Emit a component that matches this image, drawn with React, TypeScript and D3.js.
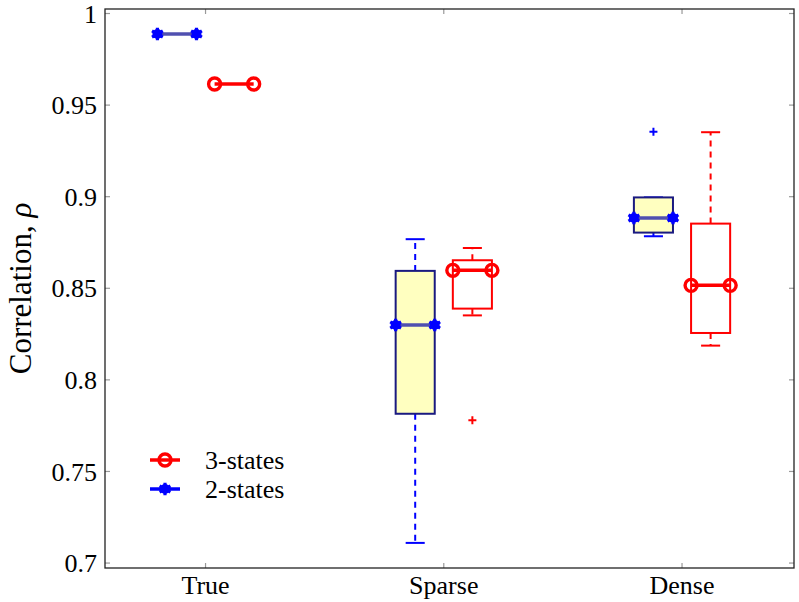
import * as d3 from 'd3';
import { useEffect, useRef } from 'react';

const categories = ['True', 'Sparse', 'Dense'];
const yTicks = [0.7, 0.75, 0.8, 0.85, 0.9, 0.95, 1];

// 2-states (blue) box statistics per category
const twoLow = [0.9888, 0.711, 0.8784];
const twoQ1 = [0.9888, 0.7815, 0.8804];
const twoMed = [0.9888, 0.83, 0.8884];
const twoQ3 = [0.9888, 0.8595, 0.8996];
const twoHigh = [0.9888, 0.8768, 0.8996];
const twoOut = [[], [], [0.9354]];

// 3-states (red)
const threeLow = [0.9615, 0.8352, 0.8187];
const threeQ1 = [0.9615, 0.8389, 0.8256];
const threeMed = [0.9615, 0.8598, 0.8516];
const threeQ3 = [0.9615, 0.8653, 0.8853];
const threeHigh = [0.9615, 0.872, 0.9352];
const threeOut = [[], [0.778], []];

const legendLabels = ['3-states', '2-states'];

export default function App() {
  const ref = useRef(null);

  useEffect(() => {
    const W = 799, H = 602;
    const margin = { top: 9, right: 5, bottom: 34, left: 105 };
    const width = W - margin.left - margin.right;
    const height = H - margin.top - margin.bottom;
    const font = 'Liberation Serif, DejaVu Serif, serif';

    const x = d3.scaleLinear().domain([0.578, 3.47]).range([0, width]);
    const y = d3.scaleLinear().domain([0.6973, 1.00246]).range([height, 0]);

    const svg = d3.select(ref.current).html('')
      .append('svg')
      .attr('width', W)
      .attr('height', H)
      .style('position', 'absolute')
      .style('left', 0)
      .style('top', 0)
      .style('font-family', font);

    const g = svg.append('g')
      .attr('transform', 'translate(' + margin.left + ',' + margin.top + ')');

    // ticks (inward, gray)
    yTicks.forEach(function (t) {
      g.append('line').attr('x1', 0).attr('x2', 5).attr('y1', y(t)).attr('y2', y(t))
        .attr('stroke', '#999').attr('stroke-width', 1.2);
      g.append('line').attr('x1', width - 5).attr('x2', width).attr('y1', y(t)).attr('y2', y(t))
        .attr('stroke', '#999').attr('stroke-width', 1.2);
      g.append('text').attr('x', -8).attr('y', y(t)).attr('dy', '0.35em')
        .attr('text-anchor', 'end').style('font-size', '26px')
        .text(String(t));
    });
    categories.forEach(function (c, i) {
      g.append('line').attr('x1', x(i + 1)).attr('x2', x(i + 1)).attr('y1', height).attr('y2', height - 5)
        .attr('stroke', '#999').attr('stroke-width', 1.2);
      g.append('line').attr('x1', x(i + 1)).attr('x2', x(i + 1)).attr('y1', 0).attr('y2', 5)
        .attr('stroke', '#999').attr('stroke-width', 1.2);
      g.append('text').attr('x', x(i + 1)).attr('y', height + 26)
        .attr('text-anchor', 'middle').style('font-size', '26px')
        .text(c);
    });

    g.append('text')
      .attr('transform', 'translate(' + (-74) + ',' + (height / 2) + ') rotate(-90)')
      .attr('text-anchor', 'middle').style('font-size', '31px')
      .call(function (t) {
        t.append('tspan').text('Correlation, ');
        t.append('tspan').attr('font-style', 'italic').text('ρ');
      });

    const off = 0.12, bw = 0.164, cw = 0.08;

    function blueMarker(sel, cx, cy) {
      sel.append('circle').attr('cx', cx).attr('cy', cy).attr('r', 5).attr('fill', 'blue');
      sel.append('path').attr('d', d3.symbol(d3.symbolAsterisk, 110)())
        .attr('transform', 'translate(' + cx + ',' + cy + ')')
        .attr('stroke', 'blue').attr('stroke-width', 3.2).attr('fill', 'none');
    }
    function redMarker(sel, cx, cy) {
      sel.append('circle').attr('cx', cx).attr('cy', cy).attr('r', 6)
        .attr('fill', 'none').attr('stroke', 'red').attr('stroke-width', 3.4);
    }
    function plus(sel, cx, cy, color) {
      sel.append('path').attr('d', 'M' + (cx - 4) + ',' + cy + 'H' + (cx + 4) + 'M' + cx + ',' + (cy - 4) + 'V' + (cy + 4))
        .attr('stroke', color).attr('stroke-width', 2);
    }

    function drawSeries(low, q1, med, q3, high, outs, shift, opts) {
      categories.forEach(function (c, i) {
        const cx = i + 1 + shift;
        const x0 = x(cx - bw / 2), x1 = x(cx + bw / 2);
        const s = g.append('g');
        // whiskers
        [[q3[i], high[i]], [q1[i], low[i]]].forEach(function (p) {
          if (p[0] === p[1]) return;
          s.append('line').attr('x1', x(cx)).attr('x2', x(cx)).attr('y1', y(p[0])).attr('y2', y(p[1]))
            .attr('stroke', opts.whisker).attr('stroke-width', 2).attr('stroke-dasharray', '6 5');
        });
        [low[i], high[i]].forEach(function (v) {
          if (q1[i] === q3[i]) return;
          s.append('line').attr('x1', x(cx - cw / 2)).attr('x2', x(cx + cw / 2)).attr('y1', y(v)).attr('y2', y(v))
            .attr('stroke', opts.whisker).attr('stroke-width', 2);
        });
        s.append('rect').attr('x', x0).attr('y', y(q3[i])).attr('width', x1 - x0)
          .attr('height', Math.max(0, y(q1[i]) - y(q3[i])))
          .attr('fill', opts.fill).attr('stroke', opts.box).attr('stroke-width', 2);
        s.append('line').attr('x1', x0).attr('x2', x1).attr('y1', y(med[i])).attr('y2', y(med[i]))
          .attr('stroke', opts.median).attr('stroke-width', 3.5);
        opts.marker(s, x0, y(med[i]));
        opts.marker(s, x1, y(med[i]));
        outs[i].forEach(function (v) { plus(s, x(cx), y(v), opts.whisker); });
      });
    }

    drawSeries(twoLow, twoQ1, twoMed, twoQ3, twoHigh, twoOut, -off,
      { whisker: 'blue', fill: '#ffffc0', box: '#1a1a80', median: '#5050b0', marker: blueMarker });
    drawSeries(threeLow, threeQ1, threeMed, threeQ3, threeHigh, threeOut, off,
      { whisker: 'red', fill: 'none', box: 'red', median: 'red', marker: redMarker });

    // frame
    g.append('rect').attr('width', width).attr('height', height)
      .attr('fill', 'none').attr('stroke', '#222').attr('stroke-width', 1.3);

    // legend
    const lg = g.append('g').attr('transform', 'translate(45,451)');
    legendLabels.forEach(function (l, i) {
      const ly = i * 29;
      const color = i === 0 ? 'red' : 'blue';
      lg.append('line').attr('x1', 0).attr('x2', 30).attr('y1', ly).attr('y2', ly)
        .attr('stroke', color).attr('stroke-width', 3.5);
      if (i === 0) redMarker(lg, 15, ly); else blueMarker(lg, 15, ly);
      lg.append('text').attr('x', 55).attr('y', ly).attr('dy', '0.35em')
        .style('font-size', '26px').text(l);
    });
  }, []);

  return <div ref={ref}></div>;
}
